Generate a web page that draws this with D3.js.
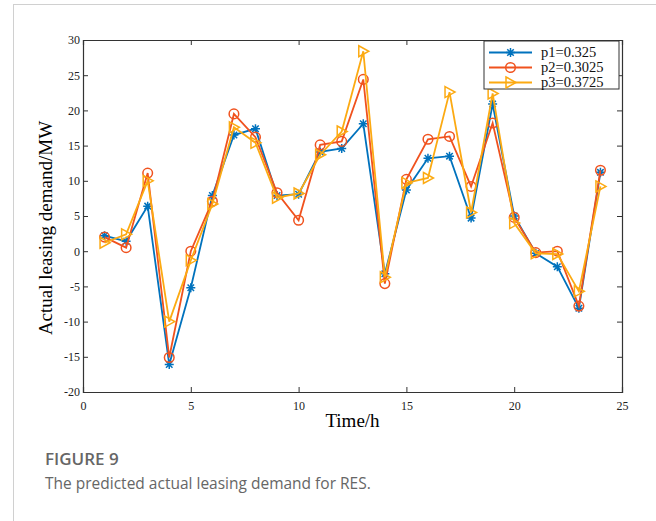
<!DOCTYPE html>
<html>
<head>
<meta charset="utf-8">
<script src="https://cdn.jsdelivr.net/npm/d3@7"></script>
<style>
  body { margin: 0; background: #fff; }
  #card { position: absolute; left: 13px; top: 4px; width: 660px; height: 560px;
          border: 1px solid #d0d0d0; box-sizing: border-box; }
</style>
</head>
<body>
<div id="card"></div>
<div id="chart"></div>
<script>
const hours = d3.range(1, 25);
const p1 = [2.2, 1.4, 6.4, -16.1, -5.2, 7.9, 16.5, 17.4, 7.9, 8.1, 14.1, 14.6, 18.1, -3.2, 8.7, 13.2, 13.5, 4.7, 20.9, 5.0, -0.3, -2.2, -8.1, 11.2];
const p2 = [2.0, 0.5, 11.1, -15.1, 0.0, 7.1, 19.5, 16.2, 8.3, 4.4, 15.1, 15.6, 24.4, -4.6, 10.2, 15.9, 16.3, 9.2, 18.2, 4.8, -0.2, 0.0, -7.8, 11.5];
const p3 = [1.2, 2.4, 10.0, -10.0, -1.3, 6.7, 17.6, 15.4, 7.6, 8.2, 13.7, 17.0, 28.4, -3.7, 9.7, 10.4, 22.6, 5.5, 22.4, 4.0, -0.3, -0.4, -5.7, 9.2];
const seriesNames = ["p1=0.325", "p2=0.3025", "p3=0.3725"];
const xTicks = [0, 5, 10, 15, 20, 25];
const yTicks = [-20, -15, -10, -5, 0, 5, 10, 15, 20, 25, 30];

const W = 656, H = 521;
const m = { left: 83, top: 40, right: 34, bottom: 129 };
const colors = ["#0072BD", "#F0521E", "#FCAA12"];
const shapes = ["star", "circle", "tri"];
const serif = "'Liberation Serif', 'Times New Roman', serif";

const svg = d3.select("#chart").append("svg")
  .attr("width", W).attr("height", H)
  .style("position", "absolute").style("left", 0).style("top", 0);

const x = d3.scaleLinear().domain([0, 25]).range([m.left, W - m.right]);
const y = d3.scaleLinear().domain([-20, 30]).range([H - m.bottom, m.top]);

/* axes, ticks pointing inward on all sides */
const tk = 5;
const fmt = d => String(d);
svg.append("g").attr("transform", `translate(0,${y(-20)})`)
  .call(d3.axisBottom(x).tickValues(xTicks).tickSize(-tk).tickPadding(9).tickFormat(fmt));
svg.append("g").attr("transform", `translate(0,${y(30)})`)
  .call(d3.axisTop(x).tickValues(xTicks).tickSize(-tk).tickFormat(""));
svg.append("g").attr("transform", `translate(${x(0)},0)`)
  .call(d3.axisLeft(y).tickValues(yTicks).tickSize(-tk).tickPadding(3).tickFormat(fmt));
svg.append("g").attr("transform", `translate(${x(25)},0)`)
  .call(d3.axisRight(y).tickValues(yTicks).tickSize(-tk).tickFormat(""));
svg.selectAll(".domain").attr("stroke", "#333").attr("stroke-width", 1.2);
svg.selectAll(".tick line").attr("stroke", "#333");
svg.selectAll(".tick text").style("font-family", serif).style("font-size", "12px").attr("fill", "#222");

/* axis titles */
svg.append("text").attr("x", (x(0) + x(25)) / 2).attr("y", 427)
  .attr("text-anchor", "middle").attr("font-family", serif).attr("font-size", 19)
  .text("Time/h");
svg.append("text").attr("transform", `translate(52,${(y(-20) + y(30)) / 2 + 12}) rotate(-90)`)
  .attr("text-anchor", "middle").attr("font-family", serif).attr("font-size", 19)
  .text("Actual leasing demand/MW");

function marker(g, shape, color) {
  if (shape === "star") {
    const r = 4.5, d = r * 0.72;
    g.append("path").attr("d", `M${-r},0L${r},0M0,${-r}L0,${r}M${-d},${-d}L${d},${d}M${-d},${d}L${d},${-d}`)
      .attr("stroke", color).attr("stroke-width", 1.5).attr("fill", "none");
  } else if (shape === "circle") {
    g.append("circle").attr("r", 4.8).attr("fill", "none").attr("stroke", color).attr("stroke-width", 1.5);
  } else {
    g.append("path").attr("d", "M-4.5,-5.5L5.5,0L-4.5,5.5Z")
      .attr("fill", "none").attr("stroke", color).attr("stroke-width", 1.5);
  }
}

const line = d3.line().x((d, i) => x(hours[i])).y(d => y(d));
[p1, p2, p3].forEach((s, k) => {
  svg.append("path").datum(s).attr("d", line)
    .attr("fill", "none").attr("stroke", colors[k]).attr("stroke-width", 1.8);
  s.forEach((v, i) => {
    marker(svg.append("g").attr("transform", `translate(${x(hours[i])},${y(v)})`), shapes[k], colors[k]);
  });
});

/* legend */
const lg = svg.append("g");
lg.append("rect").attr("x", 484).attr("y", 41).attr("width", 135).attr("height", 48)
  .attr("fill", "#fff").attr("stroke", "#333").attr("stroke-width", 1);
seriesNames.forEach((name, k) => {
  const ly = 52.5 + k * 15;
  lg.append("line").attr("x1", 489).attr("x2", 532).attr("y1", ly).attr("y2", ly)
    .attr("stroke", colors[k]).attr("stroke-width", 1.8);
  marker(lg.append("g").attr("transform", `translate(510.5,${ly})`), shapes[k], colors[k]);
  lg.append("text").attr("x", 541).attr("y", ly + 4.5).attr("font-family", serif)
    .attr("font-size", 14.5).attr("fill", "#111").text(name);
});

/* caption */
svg.append("text").attr("x", 45).attr("y", 465).attr("font-family", "'Open Sans', 'Noto Sans', sans-serif")
  .attr("font-size", 17).attr("font-weight", 600).attr("fill", "#666").text("FIGURE 9");
svg.append("text").attr("x", 45).attr("y", 489).attr("font-family", "'Open Sans', 'Noto Sans', sans-serif")
  .attr("font-size", 15.5).attr("fill", "#666").text("The predicted actual leasing demand for RES.");
</script>
</body>
</html>
